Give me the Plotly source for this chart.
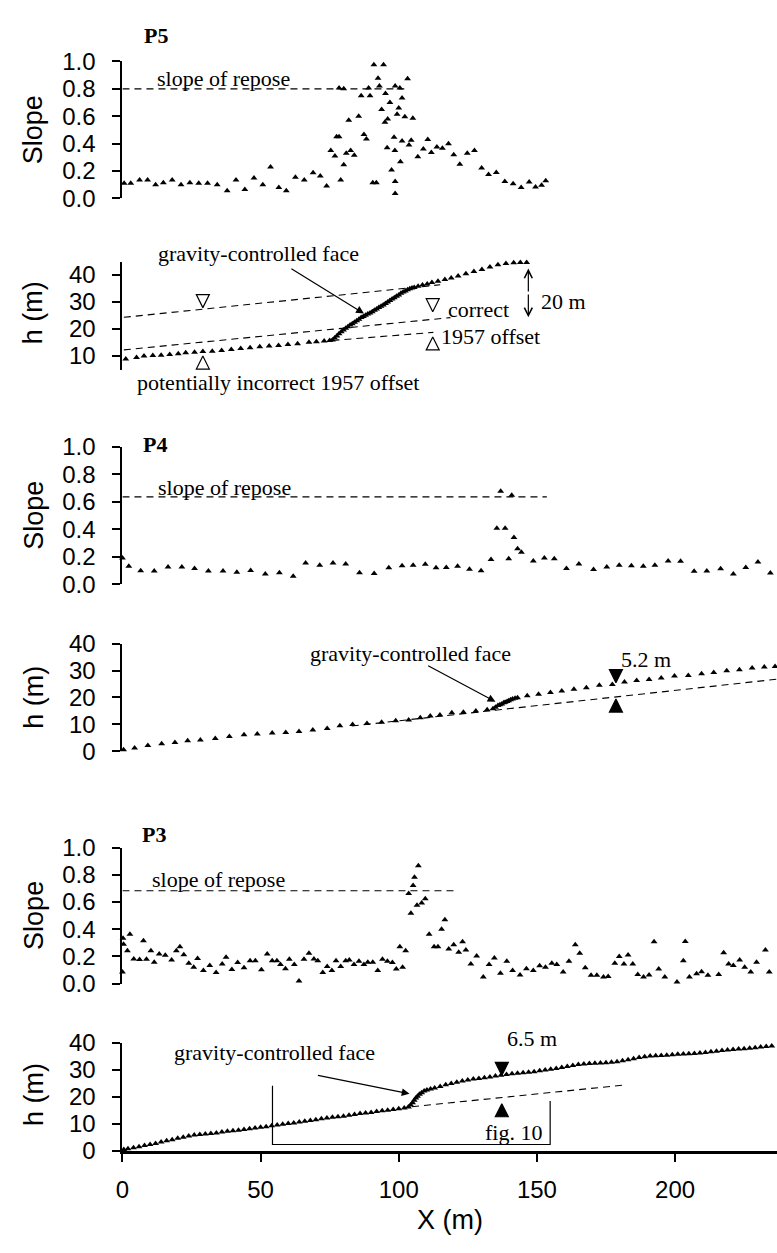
import plotly.graph_objects as go

W, H = 777, 1253
X0PX = 116.5          # pixel of x = 0
XMAX = 236.9          # x value at right edge

# ---------------- data (x in m) ----------------
P5_SLOPE = [(0.6,0.11),(3.0,0.11),(6.2,0.135),(9.1,0.135),(12.0,0.10),(14.8,0.115),(18.0,0.135),
            (21.2,0.10),(24.4,0.115),(27.6,0.11),(30.8,0.11),(34.3,0.10),(37.9,0.057),(41.1,0.134),
            (44.3,0.065),(47.6,0.15),(50.8,0.10),(53.6,0.23),(56.6,0.08),(59.3,0.057),(62.6,0.155),
            (65.8,0.135),(69.0,0.187),(71.6,0.163),(73.9,0.09),(75.4,0.35),(76.9,0.31),(77.5,0.45),
            (78.4,0.45),(79.0,0.135),(78.4,0.806),(80.1,0.80),(80.1,0.246),(81.0,0.33),(81.9,0.57),
            (82.6,0.35),(83.9,0.316),(85.5,0.60),(86.4,0.75),(87.4,0.467),(88.3,0.433),(89.1,0.806),
            (89.6,0.75),(91.0,0.976),(90.6,0.115),(91.9,0.115),(92.5,0.878),(93.0,0.82),(93.8,0.65),
            (94.5,0.976),(95.0,0.557),(95.2,0.766),(95.8,0.37),(96.0,0.58),(96.8,0.70),(97.4,0.208),
            (98.3,0.447),(98.6,0.35),(98.7,0.82),(98.7,0.124),(98.7,0.036),(99.4,0.615),(100.0,0.66),
            (100.4,0.806),(100.6,0.268),(101.2,0.734),(101.2,0.42),(102.2,0.596),(103.2,0.873),
            (103.7,0.39),(104.5,0.424),(105.1,0.586),(106.9,0.304),(108.9,0.36),(110.5,0.43),
            (111.8,0.335),(113.8,0.376),(115.8,0.366),(118.0,0.40),(119.9,0.318),(122.1,0.25),
            (124.8,0.33),(127.4,0.35),(130.0,0.222),(132.5,0.175),(135.3,0.19),(138.4,0.124),
            (141.4,0.108),(144.3,0.079),(147.2,0.12),(149.5,0.084),(151.7,0.096),(153.2,0.13)]

P5_H = [(1.2,8.8),(5.1,9.4),(7.8,9.9),(11.0,10.1),(14.0,10.2),(17.1,10.5),(20.2,10.8),(22.9,11.1),
        (26.1,11.3),(29.1,11.6),(32.5,11.7),(35.9,12.0),(39.4,12.3),(42.8,12.7),(46.2,13.0),
        (49.7,13.4),(53.1,13.6),(56.5,13.8),(59.9,14.2),(63.4,14.5),(67.5,15.0),(70.2,15.2),
        (73.0,15.5),(75.0,15.7),
        (76.0,15.9),(76.8,16.6),(77.6,17.4),(78.4,18.2),(79.2,18.9),(80.0,19.6),(80.8,20.2),
        (81.6,20.8),(82.4,21.4),(83.2,21.9),(84.0,22.5),(84.8,23.0),(85.6,23.6),(86.4,24.2),
        (87.2,24.6),(88.0,25.1),(88.8,25.5),(89.6,25.9),(90.4,26.4),(91.2,26.9),(92.0,27.4),
        (92.8,27.9),(93.6,28.4),(94.4,28.9),(95.2,29.4),(96.0,30.0),(96.8,30.5),(97.6,31.1),
        (98.4,31.6),(99.2,32.1),(100.0,32.6),(100.8,33.2),(101.6,33.7),(102.4,34.1),(103.2,34.5),
        (104.0,34.9),(104.8,35.2),(105.6,35.4),
        (107.0,35.8),(108.6,36.3),(110.3,36.7),(112.0,37.2),(114.2,37.7),(116.7,38.3),(119.0,38.9),
        (121.5,39.6),(124.3,40.5),(127.2,41.3),(130.1,42.1),(133.0,43.0),(135.9,43.8),(138.8,44.3),
        (141.6,44.6),(144.0,44.7),(146.3,44.7)]

P4_SLOPE = [(0.0,0.19),(2.3,0.13),(6.6,0.097),(11.5,0.095),(16.5,0.124),(21.5,0.124),(26.1,0.114),
            (31.1,0.095),(36.4,0.095),(41.4,0.086),(46.4,0.10),(51.7,0.074),(56.8,0.083),(61.8,0.057),
            (66.3,0.154),(71.4,0.138),(76.2,0.154),(80.8,0.147),(85.8,0.083),(91.1,0.078),(96.4,0.119),
            (101.2,0.133),(105.2,0.138),(109.6,0.145),(113.5,0.119),(117.2,0.121),(121.3,0.131),
            (125.6,0.109),(129.8,0.097),(133.4,0.18),(135.5,0.406),(138.5,0.406),(136.9,0.677),
            (140.9,0.648),(139.8,0.185),(141.7,0.34),(143.0,0.257),(144.4,0.233),(148.7,0.169),
            (152.7,0.19),(156.3,0.185),(160.7,0.114),(165.2,0.147),(170.5,0.107),(175.3,0.124),
            (179.8,0.138),(184.2,0.133),(188.5,0.131),(192.7,0.138),(197.5,0.169),(202.0,0.166),
            (206.9,0.093),(211.5,0.095),(216.5,0.112),(221.1,0.074),(225.6,0.121),(230.0,0.162),
            (234.5,0.081)]

P4_H = [(0.4,0.6),(4.4,1.2),(9.2,2.1),(14.2,2.8),(19.0,3.3),(23.6,3.9),(28.2,4.2),(33.6,4.7),
        (38.7,5.5),(44.0,6.1),(48.8,6.4),(54.2,6.8),(59.1,7.0),(63.9,7.3),(68.9,7.9),(74.1,8.5),
        (78.7,9.5),(83.3,9.9),(88.5,10.3),(93.8,10.8),(98.9,11.3),(103.6,11.6),(107.8,12.5),
        (111.4,13.1),(114.9,13.5),(119.2,14.3),(123.4,14.5),(127.9,15.0),(132.0,15.4),(134.1,15.8),
        (135.0,16.4),(135.9,17.0),(136.6,17.3),(137.3,17.6),(138.0,18.0),(138.5,18.2),(139.2,18.5),
        (139.8,18.8),(140.5,19.1),(141.2,19.4),(142.1,19.7),(143.0,19.9),
        (146.5,20.6),(150.6,21.2),(154.9,21.8),(159.0,22.4),(163.4,23.0),(167.9,23.6),(172.6,24.5),
        (177.3,24.8),(181.7,25.7),(186.1,26.3),(190.6,26.7),(195.0,27.2),(199.8,28.0),(204.8,28.2),
        (209.6,28.8),(214.0,29.3),(218.7,29.9),(223.3,30.3),(227.9,30.9),(232.3,31.3),(236.2,31.5)]

P3_SLOPE = [(0.0,0.085),(0.4,0.29),(0.2,0.334),(2.7,0.363),(1.8,0.242),(4.1,0.182),(6.2,0.177),
            (7.6,0.315),(8.7,0.179),(10.3,0.242),(11.5,0.157),(13.3,0.218),(15.5,0.208),(17.8,0.174),
            (19.5,0.242),(20.8,0.271),(22.2,0.213),(24.0,0.15),(25.8,0.121),(27.2,0.184),(29.3,0.097),
            (31.6,0.133),(33.9,0.082),(36.1,0.145),(37.5,0.194),(39.6,0.104),(41.7,0.155),(44.0,0.116),
            (46.2,0.169),(48.1,0.169),(50.3,0.102),(52.4,0.218),(54.2,0.169),(55.9,0.169),(57.2,0.14),
            (59.0,0.109),(60.4,0.179),(62.2,0.14),(63.9,0.019),(65.7,0.179),(67.5,0.223),(69.3,0.182),
            (70.7,0.169),(72.5,0.082),(74.1,0.126),(75.8,0.097),(77.3,0.169),(79.0,0.126),(80.8,0.169),
            (82.1,0.174),(83.8,0.14),(85.6,0.165),(87.4,0.14),(88.8,0.157),(90.6,0.157),(92.4,0.097),
            (94.1,0.179),(95.9,0.165),(97.7,0.155),(99.1,0.107),(100.4,0.271),(101.4,0.121),
            (102.5,0.242),(103.6,0.663),(104.4,0.518),(105.2,0.722),(105.7,0.782),(106.6,0.576),
            (107.1,0.867),(108.3,0.593),(109.6,0.625),(111.0,0.363),(112.8,0.271),(114.2,0.271),
            (115.5,0.40),(116.7,0.47),(118.1,0.254),(119.9,0.286),(121.7,0.23),(123.1,0.308),
            (124.3,0.247),(126.1,0.145),(128.2,0.203),(130.6,0.048),(132.7,0.14),(134.6,0.189),
            (136.8,0.077),(139.1,0.165),(141.2,0.097),(143.9,0.063),(146.2,0.109),(148.7,0.097),
            (151.0,0.131),(153.1,0.121),(155.4,0.15),(157.2,0.14),(159.5,0.085),(161.6,0.165),
            (163.9,0.286),(165.5,0.223),(167.5,0.116),(169.6,0.061),(171.7,0.061),(174.1,0.048),
            (175.8,0.053),(178.2,0.15),(179.8,0.199),(181.5,0.145),(183.0,0.211),(184.7,0.145),
            (186.5,0.068),(188.6,0.048),(190.6,0.063),(192.4,0.308),(194.1,0.107),(196.3,0.048),
            (200.7,0.012),(203.0,0.169),(203.7,0.31),(205.2,0.048),(207.8,0.073),(209.6,0.087),
            (211.9,0.061),(215.8,0.068),(217.6,0.228),(219.4,0.145),(221.1,0.133),(223.4,0.174),
            (225.2,0.121),(227.4,0.085),(229.5,0.157),(232.7,0.247),(234.1,0.085)]

P3_H = [(0.5,0.5),(2,0.8),(4,1.2),(6,1.6),(8,2.0),(10,2.4),(12,2.8),(14,3.3),(16,3.8),(18,4.2),
        (20,4.7),(22,5.1),(24,5.5),(26,5.9),(28,6.1),(30,6.3),(32,6.5),(34,6.7),(36,7.0),(38,7.3),
        (40,7.5),(42,7.7),(44,8.0),(46,8.2),(48,8.5),(50,8.8),(52,9.0),(54,9.3),(56,9.6),(58,9.9),
        (60,10.2),(62,10.4),(64,10.7),(66,11.0),(68,11.3),(70,11.6),(72,11.9),(74,12.2),(76,12.5),
        (78,12.7),(80,12.9),(82,13.2),(84,13.5),(86,13.9),(88,14.1),(90,14.3),(92,14.6),(94,14.9),
        (96,15.1),(98,15.4),(100,15.6),(102,15.9),(103.5,16.3),(104.3,17.0),(105.0,17.9),
        (105.6,18.8),(106.2,19.6),(106.8,20.3),(107.5,21.0),(108.3,21.6),(109.2,22.2),(110.2,22.6),
        (111.5,23.0),(113,23.3),(115,23.9),(117,24.5),(119,25.0),(121,25.5),(123,25.9),(125,26.3),
        (127,26.7),(129,26.9),(131,27.1),(133,27.4),(135,27.8),(137,28.1),(139,28.3),(141,28.6),
        (143,28.8),(145,29.0),(147,29.2),(149,29.4),(151,29.7),(153,30.0),(155,30.3),(157,30.6),
        (159,30.9),(161,31.3),(163,31.7),(165,32.0),(167,32.2),(169,32.4),(171,32.5),(173,32.6),
        (175,32.7),(177,32.9),(179,33.1),(181,33.4),(183,33.8),(185,34.2),(187,34.6),(189,34.9),
        (191,35.2),(193,35.3),(195,35.4),(197,35.5),(199,35.7),(201,35.8),(203,35.9),(205,36.0),
        (207,36.1),(209,36.3),(211,36.5),(213,36.8),(215,37.0),(217,37.2),(219,37.4),(221,37.6),
        (223,37.8),(225,37.9),(227,38.1),(229,38.3),(231,38.5),(233,38.7),(235,38.9)]

# slope of repose lines
REPOSE_P5 = ([0, 102.0], [0.80, 0.80])
REPOSE_P4 = ([0, 153.6], [0.635, 0.635])
REPOSE_P3 = ([0, 121.3], [0.683, 0.683])

# dashed reference lines in the h panels
P5_LINE_A = ([0.5, 115.0], [24.3, 36.4])
P5_LINE_B = ([0.5, 118.7], [12.2, 24.2])
P5_LINE_C = ([76.0, 112.5], [15.7, 18.7])
P4_LINE = ([83.0, 237.0], [9.4, 26.8])
P3_LINE = ([104.8, 181.2], [16.4, 24.4])

# offset marker tips
P5_OPEN_DOWN = ([29.1, 112.3], [27.9, 26.4])
P5_OPEN_UP = ([29.1, 112.3], [9.9, 17.0])
P4_OFF_DOWN = ([178.6], [25.5])
P4_OFF_UP = ([178.6], [19.4])
P3_OFF_DOWN = ([137.3], [28.0])
P3_OFF_UP = ([137.3], [17.5])

FIG10_BOX = ([54.3, 54.3, 154.8, 154.8], [24.2, 2.4, 2.4, 18.5])

SLOPE_TICKS = [0, 0.2, 0.4, 0.6, 0.8, 1.0]
SLOPE_TICKTEXT = ["0.0", "0.2", "0.4", "0.6", "0.8", "1.0"]
H5_TICKS = [10, 20, 30, 40]
H_TICKS = [0, 10, 20, 30, 40]
X_TICKS = [0, 50, 100, 150, 200]

# ---------------- layout geometry (pixels) ----------------
panels = [
    dict(rng=[0, 1], top=48.5, bot=188.5, ticks=SLOPE_TICKS, text=SLOPE_TICKTEXT),
    dict(rng=[4.6, 44.9], top=253.3, bot=364.2, ticks=H5_TICKS, text=None),
    dict(rng=[0, 1], top=442.3, bot=582.7, ticks=SLOPE_TICKS, text=SLOPE_TICKTEXT),
    dict(rng=[0, 40], top=643.5, bot=753.5, ticks=H_TICKS, text=None),
    dict(rng=[0, 1], top=852.0, bot=991.0, ticks=SLOPE_TICKS, text=SLOPE_TICKTEXT),
    dict(rng=[0, 40], top=1051.7, bot=1162.0, ticks=H_TICKS, text=None),
]

SANS = "Liberation Sans, Arial, Helvetica, sans-serif"
SERIF = "Liberation Serif, Times New Roman, serif"
TICKFONT = dict(family=SANS, size=24, color="black")
ANNFONT = dict(family=SERIF, size=22, color="black")
DASH = "7px,5px"

fig = go.Figure()


def ax(i):
    return ("x" if i == 1 else f"x{i}"), ("y" if i == 1 else f"y{i}")


def pts(trace_data, i, size=6):
    xr, yr = ax(i)
    fig.add_trace(go.Scatter(x=[p[0] for p in trace_data], y=[p[1] for p in trace_data],
                             mode="markers", xaxis=xr, yaxis=yr, cliponaxis=False,
                             marker=dict(symbol="triangle-up", size=size, color="black",
                                         line=dict(width=0)),
                             showlegend=False, hoverinfo="skip"))


def dline(xy, i, dash=DASH, width=1.1):
    xr, yr = ax(i)
    fig.add_trace(go.Scatter(x=xy[0], y=xy[1], mode="lines", xaxis=xr, yaxis=yr,
                             cliponaxis=False,
                             line=dict(color="black", width=width, dash=dash),
                             showlegend=False, hoverinfo="skip"))


def marks(xy, i, symbol, size=12):
    xr, yr = ax(i)
    fig.add_trace(go.Scatter(x=xy[0], y=xy[1], mode="markers", xaxis=xr, yaxis=yr,
                             cliponaxis=False,
                             marker=dict(symbol=symbol, size=size, color="black",
                                         line=dict(color="black", width=1.2)),
                             showlegend=False, hoverinfo="skip"))


# panel 1: P5 slope
dline(REPOSE_P5, 1)
pts(P5_SLOPE, 1)
# panel 2: P5 h
dline(P5_LINE_A, 2)
dline(P5_LINE_B, 2)
dline(P5_LINE_C, 2)
pts(P5_H, 2)
marks(P5_OPEN_DOWN, 2, "arrow-down-open", 13)
marks(P5_OPEN_UP, 2, "arrow-up-open", 13)
# panel 3: P4 slope
dline(REPOSE_P4, 3)
pts(P4_SLOPE, 3)
# panel 4: P4 h
dline(P4_LINE, 4)
pts(P4_H, 4)
marks(P4_OFF_DOWN, 4, "arrow-down", 13)
marks(P4_OFF_UP, 4, "arrow-up", 13)
# panel 5: P3 slope
dline(REPOSE_P3, 5)
pts(P3_SLOPE, 5)
# panel 6: P3 h
dline(P3_LINE, 6)
dline(FIG10_BOX, 6, dash="solid", width=1.2)
pts(P3_H, 6)
marks(P3_OFF_DOWN, 6, "arrow-down", 13)
marks(P3_OFF_UP, 6, "arrow-up", 13)

layout = dict(width=W, height=H, margin=dict(l=0, r=0, t=0, b=0),
              paper_bgcolor="white", plot_bgcolor="white", showlegend=False)

for i, p in enumerate(panels, start=1):
    xname = "xaxis" if i == 1 else f"xaxis{i}"
    yname = "yaxis" if i == 1 else f"yaxis{i}"
    xr, yr = ax(i)
    last = (i == 6)
    layout[xname] = dict(domain=[X0PX / W, 1], range=[0, XMAX], anchor=yr,
                         showgrid=False, zeroline=False, fixedrange=True,
                         visible=last, showline=last, linecolor="black", linewidth=2.5,
                         ticks="outside" if last else "", ticklen=8, tickwidth=1.5,
                         tickcolor="black", tickvals=X_TICKS, tickfont=TICKFONT,
                         ticklabelstandoff=7)
    layout[yname] = dict(domain=[1 - p["bot"] / H, 1 - p["top"] / H], range=p["rng"],
                         anchor=xr, showgrid=False, zeroline=False, fixedrange=True,
                         showline=True, linecolor="black", linewidth=2,
                         ticks="outside", ticklen=8, tickwidth=1.5, tickcolor="black",
                         tickvals=p["ticks"], ticktext=p["text"], tickfont=TICKFONT,
                         ticklabelstandoff=12)
fig.update_layout(**layout)


def to_paper(i, x, y):
    p = panels[i - 1]
    r0, r1 = p["rng"]
    ypx = p["top"] + (r1 - y) / (r1 - r0) * (p["bot"] - p["top"])
    xpx = X0PX + x / XMAX * (W - X0PX)
    return xpx / W, 1 - ypx / H


ann = []


def text(i, x, y, s, font=ANNFONT, xanchor="center"):
    px, py = to_paper(i, x, y)
    ann.append(dict(x=px, y=py, xref="paper", yref="paper", text=s, showarrow=False,
                    font=font, xanchor=xanchor, yanchor="middle"))


def arrow(i, x0, y0, x1, y1, head=2, side="end", size=1.3):
    xr, yr = ax(i)
    ann.append(dict(x=x1, y=y1, ax=x0, ay=y0, xref=xr, yref=yr, axref=xr, ayref=yr,
                    text="", showarrow=True, arrowhead=head, arrowside=side,
                    arrowsize=size, arrowwidth=1.2, arrowcolor="black", standoff=0))


PFONT = dict(family=SERIF, size=22, color="black")
text(1, 12.0, 1.19, "<b>P5</b>", PFONT)
text(3, 11.7, 1.016, "<b>P4</b>", PFONT)
text(5, 11.3, 1.10, "<b>P3</b>", PFONT)

text(1, 36.6, 0.879, "slope of repose")
text(3, 36.9, 0.703, "slope of repose")
text(5, 34.9, 0.763, "slope of repose")

text(2, 49.3, 47.9, "gravity-controlled face")
arrow(2, 60.6, 42.7, 87.4, 25.7)
text(2, 159.7, 30.3, "20 m")
arrow(2, 146.9, 33.3, 146.9, 42.4, head=5, side="end")
arrow(2, 146.9, 33.3, 146.9, 24.3, head=5, side="end")
text(2, 128.9, 27.3, "correct")
text(2, 133.3, 17.2, "1957 offset")
text(2, 56.2, 0.2, "potentially incorrect 1957 offset")

text(4, 104.3, 36.4, "gravity-controlled face")
arrow(4, 110.1, 32.1, 135.0, 18.4)
text(4, 189.6, 34.2, "5.2 m")

text(6, 55.1, 36.4, "gravity-controlled face")
arrow(6, 70.2, 28.1, 103.9, 21.2)
text(6, 148.3, 41.6, "6.5 m")
text(6, 141.7, 6.7, "fig. 10")

TITLEFONT = dict(family=SANS, size=27, color="black")
for ypx, s in [(118, "Slope"), (305, "h (m)"), (512, "Slope"), (698, "h (m)"),
               (921, "Slope"), (1104, "h (m)")]:
    ann.append(dict(x=27 / W, y=1 - ypx / H, xref="paper", yref="paper", text=s,
                    textangle=-90, showarrow=False, font=TITLEFONT,
                    xanchor="center", yanchor="middle"))
ann.append(dict(x=447 / W, y=1 - 1233 / H, xref="paper", yref="paper", text="X (m)",
                showarrow=False, font=TITLEFONT, xanchor="center", yanchor="middle"))

fig.update_layout(annotations=ann)
fig.write_html("out.html", config={"displayModeBar": False})

# remove the default page margin so the figure sits at the window origin
with open("out.html", "r", encoding="utf-8") as f:
    html = f.read()
html = html.replace("<head>", "<head><style>html,body{margin:0;padding:0;overflow:hidden;}</style>", 1)
with open("out.html", "w", encoding="utf-8") as f:
    f.write(html)
